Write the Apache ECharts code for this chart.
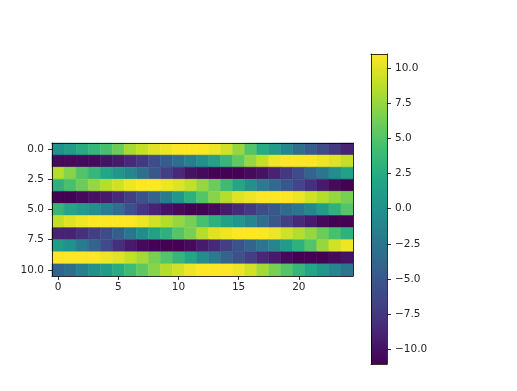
<!DOCTYPE html>
<html>
<head>
<meta charset="utf-8">
<script src="https://cdn.jsdelivr.net/npm/echarts@6/dist/echarts.min.js"></script>
<style>
html,body{margin:0;padding:0;background:#fff;}
#chart{width:517px;height:391px;}
</style>
</head>
<body>
<div id="chart"></div>
<script>
// ---- data ----
const cols = Array.from({length: 25}, (_, i) => i);
const rowIndex = [0,1,2,3,4,5,6,7,8,9,10];
const row0  = [0, 1, 2.5, 3.5, 4.5, 6, 8, 9, 10, 10.5, 11, 11, 11, 10.5, 9.5, 7.5, 5, 2.5, 1, -1, -3, -4.5, -6, -7.5, -9];
const row1  = [-10.5, -10.5, -10.5, -10.5, -10, -9.5, -8.5, -7.5, -6, -4.5, -3, -1.5, 0, 1.5, 3.5, 5.5, 7.5, 9, 10.5, 11, 11, 11, 10.5, 10, 9];
const row2  = [8.5, 7, 5, 3.5, 2, 0.5, -1, -3, -5, -7, -8.5, -10, -10.5, -11, -11, -11, -10.5, -10, -9, -7.5, -6, -4, -2.5, -0.5, 1.5];
const row3  = [3, 4.5, 6, 7.5, 8.5, 9.5, 10.5, 11, 11, 10.5, 10, 9, 7.5, 6, 4, 2, 0, -2, -3.5, -5, -6.5, -8, -9.5, -10.5, -11];
const row4  = [-11, -11, -10.5, -10, -9.5, -8.5, -7, -5.5, -4, -2, 0.5, 3, 5, 7, 8.5, 10, 10.5, 11, 11, 11, 10.5, 9.5, 8.5, 7.5, 6.5];
const row5  = [3.5, 2, 1, 0, -1.5, -3, -5.5, -7.5, -9, -10, -10.5, -11, -11, -10.5, -9.5, -8.5, -7.5, -6, -5, -3.5, -2.5, -1, 1, 3, 5];
const row6  = [9, 10, 10.5, 11, 11, 11, 11, 10.5, 9.5, 8.5, 7.5, 6.5, 4.5, 3, 1.5, 0.5, -1, -3, -5, -7, -8.5, -9.5, -10.5, -11, -11];
const row7  = [-9, -9, -8, -7, -6, -4.5, -2.5, -0.5, 1.5, 3, 5, 6.5, 8.5, 10, 10.5, 11, 11, 11, 10.5, 9.5, 8.5, 7.5, 6, 4.5, 3];
const row8  = [1, 0, -2, -4, -6, -8, -9.5, -10.5, -11, -11, -11, -10.5, -9.5, -8.5, -7, -5.5, -4, -2.5, -1, 1, 3, 5, 7.5, 9.5, 10.5];
const row9  = [11, 11, 11, 11, 10.5, 10, 9, 8, 6.5, 5, 3.5, 2, -0.5, -2, -4, -5.5, -7, -8.5, -9.5, -10.5, -11, -11, -11, -10.5, -10];
const row10 = [-4, -3, -1.5, 0, 1, 2.5, 4, 5.5, 7, 8.5, 9.5, 10.5, 11, 11, 11, 10.5, 9.5, 8, 6.5, 5, 3.5, 2, 0.5, -1, -2.5];
const rows = [row0,row1,row2,row3,row4,row5,row6,row7,row8,row9,row10];
const xTicks = [0, 5, 10, 15, 20];
const yTicks = [0, 2.5, 5, 7.5, 10];
const cbTicks = [-10, -7.5, -5, -2.5, 0, 2.5, 5, 7.5, 10];
const cbMin = -11.05, cbMax = 11.0;
const viridis = ['#440154','#482475','#414487','#355f8d','#2a788e','#21918c','#22a884','#44bf70','#7ad151','#bddf26','#fde725'];

const cellData = [];
rows.forEach((r, ri) => r.forEach((v, ci) => cellData.push([cols[ci], rowIndex[ri], v])));

const FONT = 'DejaVu Sans';
const TXT = '#262626';
const FS = 10.5;
const lineStyle = {color: '#000', width: 0.8};
const fmtNum = v => (v < 0 ? '\u2212' : '') + Math.abs(v).toFixed(1);

const chart = echarts.init(document.getElementById('chart'), null, {renderer: 'canvas'});
chart.setOption({
  animation: false,
  backgroundColor: '#fff',
  textStyle: {fontFamily: FONT},
  grid: [
    {left: 52, top: 143, width: 301, height: 133},
    {left: 371, top: 54, width: 16, height: 310}
  ],
  xAxis: [
    {gridIndex: 0, type: 'value', min: -0.5, max: 24.5, position: 'bottom', z: 10,
     axisLine: {show: true, onZero: false, lineStyle},
     axisTick: {show: true, customValues: xTicks, length: 4, lineStyle},
     axisLabel: {show: true, customValues: xTicks, margin: 6, fontSize: FS, color: TXT, fontFamily: FONT},
     splitLine: {show: false}},
    {gridIndex: 0, type: 'value', min: -0.5, max: 24.5, position: 'top', z: 10,
     axisLine: {show: true, onZero: false, lineStyle}, axisTick: {show: false}, axisLabel: {show: false}, splitLine: {show: false}},
    {gridIndex: 1, type: 'value', min: 0, max: 1, position: 'bottom', z: 10,
     axisLine: {show: true, onZero: false, lineStyle}, axisTick: {show: false}, axisLabel: {show: false}, splitLine: {show: false}},
    {gridIndex: 1, type: 'value', min: 0, max: 1, position: 'top', z: 10,
     axisLine: {show: true, onZero: false, lineStyle}, axisTick: {show: false}, axisLabel: {show: false}, splitLine: {show: false}}
  ],
  yAxis: [
    {gridIndex: 0, type: 'value', inverse: true, min: -0.5, max: 10.5, position: 'left', z: 10,
     axisLine: {show: true, onZero: false, lineStyle},
     axisTick: {show: true, customValues: yTicks, length: 4, lineStyle},
     axisLabel: {show: true, customValues: yTicks, margin: 8, fontSize: FS, color: TXT, fontFamily: FONT,
                 formatter: v => fmtNum(v)},
     splitLine: {show: false}},
    {gridIndex: 0, type: 'value', inverse: true, min: -0.5, max: 10.5, position: 'right', z: 10,
     axisLine: {show: true, onZero: false, lineStyle}, axisTick: {show: false}, axisLabel: {show: false}, splitLine: {show: false}},
    {gridIndex: 1, type: 'value', min: cbMin, max: cbMax, position: 'right', z: 10,
     axisLine: {show: true, onZero: false, lineStyle},
     axisTick: {show: true, customValues: cbTicks, length: 4, lineStyle},
     axisLabel: {show: true, customValues: cbTicks, margin: 8, fontSize: FS, color: TXT, fontFamily: FONT,
                 formatter: v => fmtNum(v)},
     splitLine: {show: false}},
    {gridIndex: 1, type: 'value', min: cbMin, max: cbMax, position: 'left', z: 10,
     axisLine: {show: true, onZero: false, lineStyle}, axisTick: {show: false}, axisLabel: {show: false}, splitLine: {show: false}}
  ],
  visualMap: {
    show: false, type: 'continuous', min: cbMin, max: cbMax, dimension: 2, seriesIndex: 0,
    inRange: {color: viridis}
  },
  series: [
    {
      type: 'custom', xAxisIndex: 0, yAxisIndex: 0, data: cellData,
      renderItem: function (params, api) {
        const c = api.value(0), r = api.value(1);
        const p0 = api.coord([c - 0.5, r - 0.5]);
        const p1 = api.coord([c + 0.5, r + 0.5]);
        const col = api.visual('color');
        return {
          type: 'rect',
          shape: {x: Math.min(p0[0], p1[0]), y: Math.min(p0[1], p1[1]),
                  width: Math.abs(p1[0] - p0[0]), height: Math.abs(p1[1] - p0[1])},
          style: {fill: col, stroke: col, lineWidth: 0.5}
        };
      }
    },
    {
      type: 'custom', xAxisIndex: 2, yAxisIndex: 2, data: [[0, cbMin, cbMax]],
      renderItem: function (params, api) {
        const p0 = api.coord([0, api.value(2)]);
        const p1 = api.coord([1, api.value(1)]);
        const stops = viridis.map((c, i) => ({offset: 1 - i / (viridis.length - 1), color: c})).reverse();
        return {
          type: 'rect',
          shape: {x: p0[0], y: p0[1], width: p1[0] - p0[0], height: p1[1] - p0[1]},
          style: {fill: new echarts.graphic.LinearGradient(0, 0, 0, 1, stops)}
        };
      }
    }
  ]
});
</script>
</body>
</html>
